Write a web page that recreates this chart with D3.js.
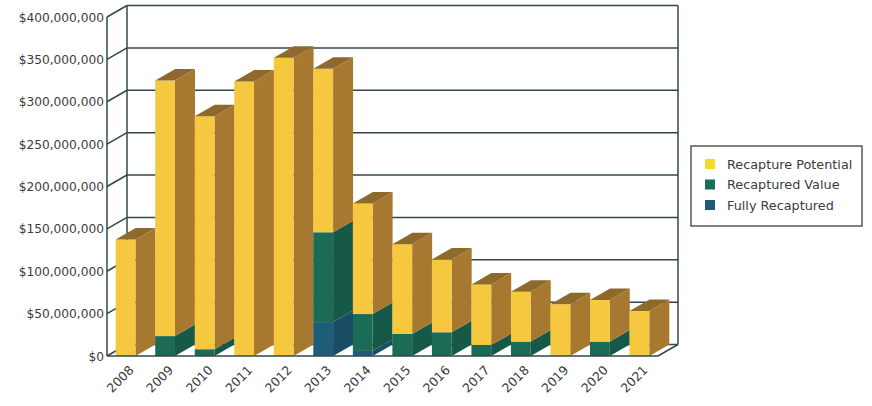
<!DOCTYPE html>
<html><head><meta charset="utf-8">
<script src="https://cdn.jsdelivr.net/npm/d3@7"></script>
<style>body{margin:0;background:#fff}svg{display:block}text{font-family:"DejaVu Sans",sans-serif;fill:#383c3c}</style>
</head><body><svg id="c" width="872" height="406"></svg>
<script>
const years = ["2008","2009","2010","2011","2012","2013","2014","2015","2016","2017","2018","2019","2020","2021"];
const fullyRecaptured = [0,0,0,0,0,40e6,6e6,0,0,0,0,0,0,0];
const recapturedValue = [0,23.5e6,8e6,0,0,106e6,43.5e6,26e6,28e6,13e6,17e6,0,17e6,0];
const recapturePotential = [137.5e6,301.5e6,275e6,324e6,352e6,193e6,130.5e6,106e6,86e6,71.5e6,58.8e6,61e6,49e6,53e6];
const yTicks = [0,50e6,100e6,150e6,200e6,250e6,300e6,350e6,400e6];
const seriesNames = ["Recapture Potential","Recaptured Value","Fully Recaptured"];

const svg = d3.select("#c");
const DX = 20, DY = -11.5;
const x = d3.scaleBand().domain(years).range([107,658]).paddingInner(0.5).paddingOuter(0.22);
const y = d3.scaleLinear().domain([0,400e6]).range([356,17]);
const gridColor = "#33474a";

// back wall & grid
const g = svg.append("g");
yTicks.forEach(t => {
  const yy = y(t);
  g.append("line").attr("x1",107).attr("y1",yy).attr("x2",107+DX).attr("y2",yy+DY)
    .attr("stroke",gridColor).attr("stroke-width",1.5);
  g.append("line").attr("x1",107+DX).attr("y1",yy+DY).attr("x2",658+DX).attr("y2",yy+DY)
    .attr("stroke",gridColor).attr("stroke-width",1.5);
  g.append("text").attr("x",104).attr("y",yy+4.5).attr("text-anchor","end")
    .attr("font-size",12.2).text(d3.format("$,")(t));
});
g.append("line").attr("x1",107+DX).attr("y1",y(400e6)+DY).attr("x2",107+DX).attr("y2",y(0)+DY).attr("stroke",gridColor).attr("stroke-width",1.5);
g.append("line").attr("x1",658+DX).attr("y1",y(400e6)+DY).attr("x2",658+DX).attr("y2",y(0)+DY).attr("stroke",gridColor).attr("stroke-width",1.5);
g.append("line").attr("x1",107).attr("y1",y(400e6)).attr("x2",107).attr("y2",y(0)).attr("stroke",gridColor).attr("stroke-width",1.5);

// bars
const cols = [
  {front:"#1f5c78", side:"#194d64", top:"#174458"},   // fully
  {front:"#1b6b57", side:"#165949", top:"#134d3f"},   // recaptured value
  {front:"#f5c840", side:"#a7782f", top:"#8d6a2c"}    // potential
];
const bars = svg.append("g");
years.forEach((yr,i) => {
  const vals = [fullyRecaptured[i], recapturedValue[i], recapturePotential[i]];
  const x0 = x(yr), x1 = x0 + x.bandwidth();
  let base = 0;
  const total = d3.sum(vals);
  vals.forEach((v,k) => {
    if (v <= 0) return;
    const yb = y(base), yt = y(base+v);
    bars.append("path").attr("d",`M${x1},${yt}L${x1+DX},${yt+DY}L${x1+DX},${yb+DY}L${x1},${yb}Z`).attr("fill",cols[k].side);
    bars.append("rect").attr("x",x0).attr("y",yt).attr("width",x1-x0).attr("height",yb-yt).attr("fill",cols[k].front);
    base += v;
    if (Math.abs(base-total) < 1) {
      bars.append("path").attr("d",`M${x0},${yt}L${x1},${yt}L${x1+DX},${yt+DY}L${x0+DX},${yt+DY}Z`).attr("fill",cols[k].top);
    }
  });
  svg.append("text").attr("font-size",12.5).attr("text-anchor","end")
    .attr("transform",`translate(${x0+x.bandwidth()/2+9},${371}) rotate(-45)`).text(yr);
});

// floor front edges
svg.append("path").attr("d",`M107,${y(0)}L658,${y(0)}L${658+DX},${y(0)+DY}`).attr("fill","none").attr("stroke",gridColor).attr("stroke-width",1.5);

// legend
const lg = svg.append("g");
lg.append("rect").attr("x",691).attr("y",146).attr("width",171).attr("height",80).attr("fill","#fff").attr("stroke","#3a3f3f").attr("stroke-width",1.3);
const legCols = ["#f2dc2c","#1b6e5a","#1f5a78"];
seriesNames.forEach((n,i) => {
  const yy = 164 + i*20.5;
  lg.append("rect").attr("x",705).attr("y",yy-5).attr("width",10).attr("height",10).attr("fill",legCols[i]);
  lg.append("text").attr("x",727).attr("y",yy+4.5).attr("font-size",12.8).text(n);
});
</script></body></html>
